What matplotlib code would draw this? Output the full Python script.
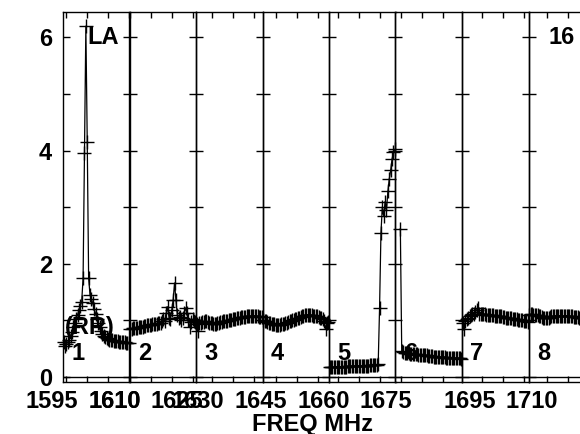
import numpy as np
import matplotlib
matplotlib.use("Agg")
import matplotlib.pyplot as plt
from matplotlib.ticker import MultipleLocator

plt.rcParams['font.family'] = ['Liberation Sans', 'DejaVu Sans']
plt.rcParams['font.weight'] = 'bold'

# ---- data ----------------------------------------------------------------
if_numbers = [1, 2, 3, 4, 5, 6, 7, 8]
if_start_mhz = [1599.3, 1614.8, 1631.2, 1646.7, 1662.9, 1678.8, 1695.2, 1710.7]
if_span_mhz = 15.8

if1_amp = [0.62, 0.55, 0.58, 0.62, 0.66, 0.72, 0.80, 0.88, 0.95, 1.02,
           1.10, 1.18, 1.25, 1.33, 1.75, 3.95, 6.20, 4.15, 1.75, 1.45,
           1.38, 1.30, 1.20, 1.12, 1.02, 0.95, 0.88, 0.82, 0.76, 0.72,
           0.70, 0.68, 0.67, 0.66, 0.65, 0.65, 0.64, 0.64, 0.63, 0.63,
           0.62, 0.62, 0.62, 0.61, 0.61, 0.60, 0.60, 0.60]
if2_amp = [0.85, 0.85, 0.86, 0.86, 0.87, 0.87, 0.88, 0.88, 0.89, 0.89,
           0.90, 0.90, 0.91, 0.91, 0.92, 0.92, 0.93, 0.93, 0.94, 0.94,
           0.95, 0.95, 0.96, 0.98, 1.02, 0.99, 1.13, 1.24, 1.05, 1.02,
           1.18, 1.36, 1.66, 1.36, 1.10, 1.04, 1.06, 1.00, 1.05, 1.13,
           1.22, 1.13, 1.00, 0.88, 0.97, 1.02, 0.98, 0.97]
if3_amp = [0.93, 0.82, 0.95, 0.96, 0.97, 0.97, 0.98, 0.98, 0.97, 0.96,
           0.95, 0.95, 0.94, 0.94, 0.94, 0.95, 0.96, 0.97, 0.97, 0.98,
           0.98, 0.98, 0.99, 1.00, 1.01, 1.01, 1.02, 1.03, 1.03, 1.04,
           1.05, 1.05, 1.06, 1.06, 1.06, 1.06, 1.07, 1.07, 1.07, 1.07,
           1.08, 1.08, 1.08, 1.08, 1.07, 1.06, 1.06, 1.06]
if4_amp = [1.00, 0.99, 0.98, 0.97, 0.96, 0.95, 0.94, 0.93, 0.93, 0.92,
           0.92, 0.92, 0.92, 0.93, 0.93, 0.94, 0.95, 0.96, 0.97, 0.98,
           0.99, 1.00, 1.01, 1.02, 1.03, 1.04, 1.05, 1.06, 1.07, 1.08,
           1.09, 1.10, 1.10, 1.10, 1.10, 1.09, 1.08, 1.08, 1.07, 1.07,
           1.06, 1.05, 1.04, 1.03, 0.98, 0.85, 0.95, 0.97]
if5_amp = [0.17, 0.17, 0.17, 0.17, 0.17, 0.18, 0.18, 0.18, 0.18, 0.18,
           0.18, 0.18, 0.18, 0.19, 0.19, 0.19, 0.19, 0.19, 0.19, 0.19,
           0.19, 0.20, 0.20, 0.20, 0.20, 0.20, 0.20, 0.20, 0.20, 0.21,
           0.21, 0.21, 0.21, 0.21, 0.21, 0.22, 1.22, 2.55, 3.00, 2.85,
           3.10, 2.95, 3.28, 3.50, 3.65, 3.85, 3.97, 4.02]
if6_amp = [np.nan, np.nan, np.nan, 2.62, 0.45,
           0.44, 0.43, 0.43, 0.42, 0.42, 0.41, 0.41, 0.41, 0.40, 0.40,
           0.40, 0.39, 0.39, 0.39, 0.38, 0.38, 0.38, 0.38, 0.37, 0.37,
           0.37, 0.37, 0.36, 0.36, 0.36, 0.36, 0.35, 0.35, 0.35, 0.35,
           0.35, 0.34, 0.34, 0.34, 0.34, 0.34, 0.33, 0.33, 0.33, 0.33,
           0.33, 0.33, 0.32]
if7_amp = [0.95, 0.85, 0.98, 1.02, 1.05, 1.08, 1.10, 1.12, 1.12, 1.14,
           1.18, 1.22, 1.12,
           1.12, 1.11, 1.11, 1.11, 1.10, 1.10, 1.10, 1.09, 1.09, 1.09,
           1.08, 1.08, 1.08, 1.07, 1.07, 1.07, 1.06, 1.06, 1.05, 1.05,
           1.05, 1.04, 1.04, 1.03, 1.03, 1.02, 1.02, 1.01, 1.01, 1.00,
           1.00, 0.99, 0.99, 0.98, 0.97]
if8_amp = [1.10, 1.11, 1.11, 1.10, 1.10, 1.09, 1.09, 1.08, 1.07, 1.06,
           1.05, 1.04, 1.04, 1.04, 1.05, 1.06, 1.07, 1.07, 1.08, 1.08,
           1.08, 1.08, 1.08, 1.07, 1.07, 1.07, 1.08, 1.08, 1.08, 1.07,
           1.07, 1.07, 1.06, 1.06, 1.06, 1.06, 1.05, 1.05, 1.05, 1.05,
           1.05, 1.04, 1.04, 1.04, 1.04, 1.04, 1.03, 1.03]
all_amps = [if1_amp, if2_amp, if3_amp, if4_amp, if5_amp, if6_amp, if7_amp, if8_amp]

freq_labels = [1595, 1610, 1610.15, 1625, 1630, 1645, 1660, 1675, 1695, 1710]
freq_label_text = ['1595', '1610', '1610', '1625', '1630', '1645', '1660',
                   '1675', '1695', '1710']

# ---- layout ---------------------------------------------------------------
W, H = 580, 434
fig = plt.figure(figsize=(W / 100, H / 100), dpi=100)
x0_px, pw_px = 63, 66.5
bot_px, top_px = 382, 12
FS = 17

axes = []
for k, amps in enumerate(all_amps):
    ax = fig.add_axes([(x0_px + k * pw_px) / W, (H - bot_px) / H,
                       pw_px / W, (bot_px - top_px) / H])
    ax.patch.set_visible(False)
    start = if_start_mhz[k]
    n = len(amps)
    freq = start + (np.arange(n) + 0.5) * if_span_mhz / n
    ax.plot(freq, amps, '-', color='black', lw=0.9, marker='+', ms=9.5,
            mew=1.0, clip_on=False)
    ax.axhline(0, color='black', lw=1)
    ax.set_xlim(start, start + if_span_mhz)
    ax.set_ylim(-0.09, 6.45)
    ax.xaxis.set_major_locator(MultipleLocator(5))
    ax.yaxis.set_major_locator(MultipleLocator(2))
    ax.yaxis.set_minor_locator(MultipleLocator(1))
    ax.tick_params(axis='x', which='both', direction='in', top=True,
                   bottom=True, length=4.5, width=1, labelbottom=False)
    if k == 0:
        ax.tick_params(axis='y', which='both', direction='in', length=5,
                       width=1, right=False, labelsize=FS, pad=8)
    else:
        ax.tick_params(axis='y', which='both', direction='inout', length=10,
                       width=1, right=False, labelleft=False)
    for sp in ax.spines.values():
        sp.set_linewidth(1)
    ax.text(0.225, 0.076, str(if_numbers[k]), transform=ax.transAxes,
            ha='center', va='center', fontsize=FS, fontweight='bold')
    axes.append(ax)

axes[0].text(0.36, 0.93, 'LA', transform=axes[0].transAxes, ha='left',
             va='center', fontsize=FS, fontweight='bold')
axes[0].text(0.03, 0.146, '(RR)', transform=axes[0].transAxes, ha='left',
             va='center', fontsize=FS, fontweight='bold')
axes[7].text(0.30, 0.93, '16', transform=axes[7].transAxes, ha='left',
             va='center', fontsize=FS, fontweight='bold')

# global frequency scale for the bottom labels
lab = fig.add_axes([0, (H - bot_px) / H, 1, (bot_px - top_px) / H])
lab.patch.set_visible(False)
for sp in lab.spines.values():
    sp.set_visible(False)
px_per_mhz = 4.174
lab.set_xlim(1595 - 52 / px_per_mhz, 1595 + (W - 52) / px_per_mhz)
lab.set_yticks([])
lab.set_xticks(freq_labels, freq_label_text)
lab.tick_params(axis='x', length=0, pad=6, labelsize=FS)

fig.text(313 / W, 1 - 424 / H, 'FREQ MHz', ha='center', va='center',
         fontsize=FS, fontweight='bold')

fig.savefig('out.png', dpi=100)
